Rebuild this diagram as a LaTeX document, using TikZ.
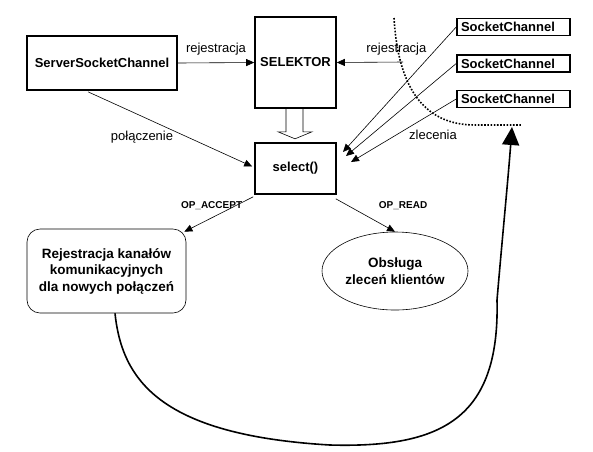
\documentclass[tikz,border=0pt]{standalone}
\usepackage{fontspec}
\setmainfont{Liberation Sans}
\usepackage{tikz}
\usetikzlibrary{shapes.geometric, arrows.meta, positioning, calc}

\begin{document}
\begin{tikzpicture}[
    x=1pt, y=-1pt,
    box/.style    = {rectangle, draw, line width=1.6pt, inner sep=0pt,
                     font=\fontsize{13}{15}\selectfont\bfseries},
    chan/.style   = {box, inner xsep=4pt, text width=105pt, align=left, minimum height=17pt},
    task/.style   = {draw, line width=0.6pt, inner sep=0pt, align=center,
                     font=\fontsize{13.5}{16.5}\selectfont\bfseries},
    msg/.style    = {-{Triangle[length=8pt,width=7pt]}, line width=0.6pt},
    note/.style   = {font=\fontsize{13}{15}\selectfont, inner sep=0pt},
    opnote/.style = {font=\fontsize{10}{12}\selectfont\bfseries, inner sep=0pt},
    loopback/.style = {-{Triangle[length=18pt,width=17pt]}, line width=1.6pt},
    bound/.style  = {line width=1.6pt, dash pattern=on 1.6pt off 1.6pt}
  ]
  \useasboundingbox (0,0) rectangle (593,451);

  % ── Channels and selector ─────────────────────────────────────────────────
  \node[box, minimum width=150pt, minimum height=54pt] (server) at (102,63) {ServerSocketChannel};
  \node[box, minimum width=81pt, minimum height=91pt]  (selektor) at (295.5,62.5) {SELEKTOR};
  \node[box, minimum width=81pt, minimum height=51pt]  (select) at (295.5,168.5) {select()};
  \node[chan] (sock1) at (513.5,27)   {SocketChannel};
  \node[chan] (sock2) at (513.5,63.5) {SocketChannel};
  \node[chan] (sock3) at (513.5,99)   {SocketChannel};

  % ── Handlers ──────────────────────────────────────────────────────────────
  \node[task, rectangle, rounded corners=13pt, minimum width=159pt, minimum height=84pt]
    (accept) at (106.5,271) {Rejestracja kanałów\\komunikacyjnych\\dla nowych połączeń};
  \node[task, ellipse, minimum width=146pt, minimum height=78pt]
    (read) at (395,271) {Obsługa\\zleceń klientów};

  % ── Boundary of client side ───────────────────────────────────────────────
  \draw[bound] (394,18) .. controls (398,85) and (422,125) .. (475,125) -- (522,125);
  \coordinate (cut) at (403,62);
  \coordinate (tip) at (512,127);

  % ── Registration ──────────────────────────────────────────────────────────
  \draw[msg] (server.east) -- node[above=7pt,note]{rejestracja} (selektor.west);
  \draw[msg] (cut) -- node[pos=0.1,above=7pt,note]{rejestracja} (selektor.east);

  % selector hands over to select()
  \draw[line width=0.6pt] ($(selektor.south)+(-9.5,0)$) -- ++(0,23) -- ++(-8,0)
    -- ++(17,7) -- ++(17,-7) -- ++(-9,0) -- ++(0,-23);

  % ── Events ────────────────────────────────────────────────────────────────
  \draw[msg] ($(server.south)+(-14,1)$) -- node[pos=0.52,anchor=north east,note]{połączenie}
    ($(select.west)+(-2,-2)$);
  \draw[msg] (sock1.west) -- (343,152);
  \draw[msg] (sock2.west) -- (346,156);
  \draw[msg] (sock3.west) -- node[pos=0.45,anchor=north west,yshift=-2pt,note]{zlecenia} (351,162);

  % ── Dispatch ──────────────────────────────────────────────────────────────
  \draw[msg] ($(select.south west)+(-1,2)$) -- node[pos=0.2,anchor=east,xshift=3pt,yshift=-2pt,opnote]{OP\_ACCEPT}
    ($(accept.north east)+(-2,3)$);
  \draw[msg] ($(select.south east)+(-1,4)$) -- node[pos=0.2,anchor=west,xshift=31pt,opnote]{OP\_READ}
    (read.north);

  % new channels go back to the client side
  \draw[loopback] ($(accept.south)+(8.5,0)$) .. controls (122,380) and (160,435) .. (330,445)
    .. controls (440,448) and (500,420) .. (497,300)
    .. controls (503,230) and (508,180) .. (tip);

\end{tikzpicture}
\end{document}
